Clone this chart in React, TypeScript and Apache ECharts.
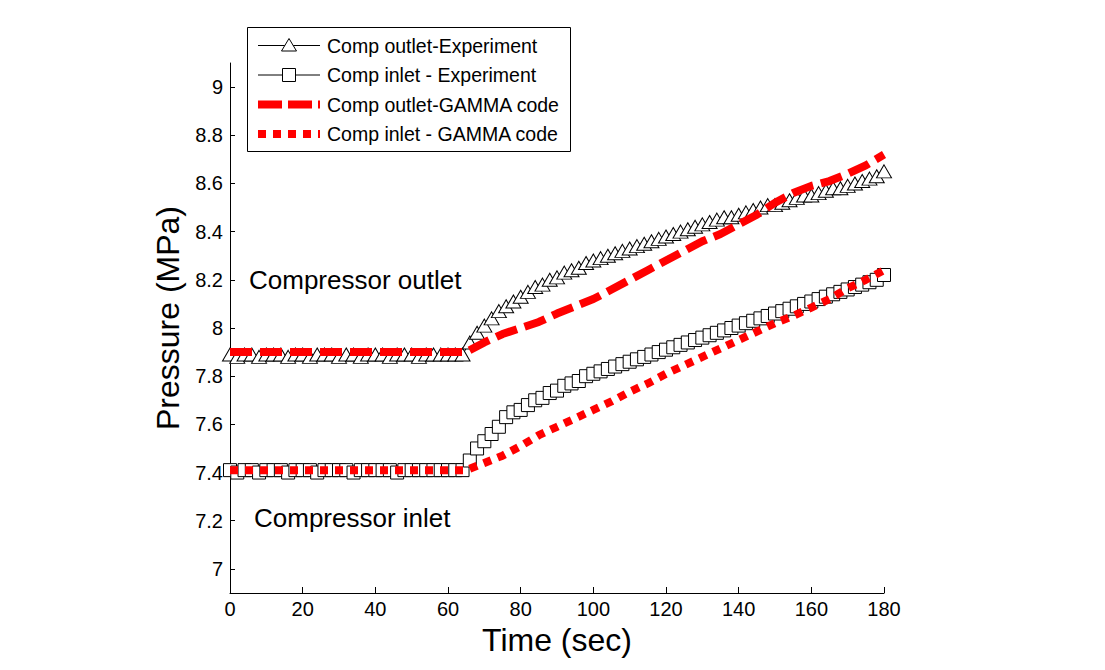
import React, { useEffect, useRef } from 'react';
import * as echarts from 'echarts';

const FONT = '"Liberation Sans", Arial, sans-serif';

const xTicks = [0, 20, 40, 60, 80, 100, 120, 140, 160, 180];
const yTicks = [7, 7.2, 7.4, 7.6, 7.8, 8, 8.2, 8.4, 8.6, 8.8, 9];

const legendNames = [
  'Comp outlet-Experiment',
  'Comp inlet - Experiment',
  'Comp outlet-GAMMA code',
  'Comp inlet - GAMMA code',
];

const expTime = [
  0, 2, 4, 6, 8, 10, 12, 14, 16, 18, 20, 22, 24, 26, 28, 30, 32, 34, 36, 38,
  40, 42, 44, 46, 48, 50, 52, 54, 56, 58, 60, 62, 64, 66, 68, 70, 72, 74, 76, 78,
  80, 82, 84, 86, 88, 90, 92, 94, 96, 98, 100, 102, 104, 106, 108, 110, 112, 114, 116, 118,
  120, 122, 124, 126, 128, 130, 132, 134, 136, 138, 140, 142, 144, 146, 148, 150, 152, 154, 156, 158,
  160, 162, 164, 166, 168, 170, 172, 174, 176, 178, 180,
];

const expOutlet = [
  7.89, 7.88, 7.89, 7.89, 7.88, 7.89, 7.89, 7.89, 7.88, 7.89, 7.89, 7.88, 7.89, 7.89, 7.89, 7.88, 7.89, 7.89, 7.88, 7.89,
  7.89, 7.89, 7.88, 7.89, 7.89, 7.89, 7.88, 7.89, 7.89, 7.89, 7.89, 7.89, 7.89, 7.94, 7.98, 8.01, 8.04, 8.07, 8.09, 8.11,
  8.13, 8.15, 8.17, 8.18, 8.2, 8.21, 8.23, 8.24, 8.25, 8.27, 8.28, 8.29, 8.3, 8.31, 8.32, 8.33, 8.34, 8.35, 8.36, 8.37,
  8.38, 8.39, 8.4, 8.41, 8.42, 8.43, 8.44, 8.45, 8.46, 8.46, 8.47, 8.48, 8.49, 8.5, 8.51, 8.51, 8.52, 8.53, 8.54, 8.55,
  8.55, 8.56, 8.57, 8.58, 8.58, 8.59, 8.6, 8.61, 8.62, 8.63, 8.65,
];

const expInlet = [
  7.41, 7.4, 7.41, 7.41, 7.4, 7.41, 7.41, 7.41, 7.4, 7.41, 7.41, 7.41, 7.4, 7.41, 7.41, 7.41, 7.41, 7.4, 7.41, 7.41,
  7.41, 7.41, 7.41, 7.4, 7.41, 7.41, 7.41, 7.41, 7.41, 7.41, 7.41, 7.41, 7.41, 7.45, 7.5, 7.53, 7.56, 7.59, 7.63, 7.65,
  7.66, 7.68, 7.7, 7.71, 7.73, 7.74, 7.76, 7.77, 7.78, 7.8, 7.81, 7.82, 7.83, 7.84, 7.85, 7.86, 7.87, 7.88, 7.89, 7.9,
  7.91, 7.92, 7.93, 7.94, 7.95, 7.96, 7.97, 7.98, 7.99, 8.0, 8.01, 8.02, 8.03, 8.04, 8.05, 8.06, 8.07, 8.08, 8.09, 8.1,
  8.11, 8.12, 8.13, 8.14, 8.15, 8.16, 8.17, 8.18, 8.19, 8.2, 8.22,
];

const codeTime = [
  0, 5, 10, 15, 20, 25, 30, 35, 40, 45, 50, 55, 60, 65, 70, 75, 80, 85, 90, 95,
  100, 105, 110, 115, 120, 125, 130, 135, 140, 145, 150, 155, 160, 165, 170, 175, 180,
];

const codeOutlet = [
  7.9, 7.9, 7.9, 7.9, 7.9, 7.9, 7.9, 7.9, 7.9, 7.9, 7.9, 7.9, 7.9, 7.9, 7.94, 7.975, 8.0, 8.025, 8.06, 8.09,
  8.12, 8.16, 8.2, 8.24, 8.28, 8.32, 8.36, 8.39, 8.43, 8.47, 8.52, 8.56, 8.59, 8.61, 8.64, 8.675, 8.72,
];

const codeInlet = [
  7.41, 7.41, 7.41, 7.41, 7.41, 7.41, 7.41, 7.41, 7.41, 7.41, 7.41, 7.41, 7.41, 7.41, 7.44, 7.47, 7.51, 7.555, 7.59, 7.625,
  7.66, 7.695, 7.735, 7.77, 7.81, 7.845, 7.88, 7.915, 7.95, 7.985, 8.02, 8.05, 8.085, 8.12, 8.165, 8.2, 8.24,
];

const zip = (xs: number[], ys: number[]) => xs.map((x, i) => [x, ys[i]]);

export default function App() {
  const ref = useRef<HTMLDivElement>(null);

  useEffect(() => {
    document.body.style.margin = '0';
    if (!ref.current) return;
    const chart = echarts.init(ref.current, null, { renderer: 'svg' });

    const rowY = [45.5, 75, 104.5, 134];
    const lx0 = 258;
    const lx1 = 320;
    const lxm = 289;
    const textX = 327;
    const legendFont = 19.5;

    const legendGraphics: any[] = [
      {
        type: 'rect',
        shape: { x: 247.5, y: 27.5, width: 323, height: 124 },
        style: { fill: '#fff', stroke: '#000', lineWidth: 1 },
        z: 100,
      },
      {
        type: 'line',
        shape: { x1: lx0, y1: rowY[0], x2: lx1, y2: rowY[0] },
        style: { stroke: '#000', lineWidth: 1 },
        z: 101,
      },
      {
        type: 'polygon',
        shape: { points: [[lxm, rowY[0] - 7], [lxm - 7.5, rowY[0] + 5.5], [lxm + 7.5, rowY[0] + 5.5]] },
        style: { fill: '#fff', stroke: '#000', lineWidth: 1 },
        z: 102,
      },
      {
        type: 'line',
        shape: { x1: lx0, y1: rowY[1], x2: lx1, y2: rowY[1] },
        style: { stroke: '#000', lineWidth: 1 },
        z: 101,
      },
      {
        type: 'rect',
        shape: { x: lxm - 6.5, y: rowY[1] - 6.5, width: 13, height: 13 },
        style: { fill: '#fff', stroke: '#000', lineWidth: 1 },
        z: 102,
      },
      {
        type: 'line',
        shape: { x1: lx0, y1: rowY[2], x2: lx1, y2: rowY[2] },
        style: { stroke: '#ff0000', lineWidth: 8, lineDash: [24, 6], lineCap: 'butt' },
        z: 101,
      },
      {
        type: 'line',
        shape: { x1: lx0, y1: rowY[3], x2: lx1, y2: rowY[3] },
        style: { stroke: '#ff0000', lineWidth: 8, lineDash: [8, 7], lineCap: 'butt' },
        z: 101,
      },
    ];
    legendNames.forEach((name, i) => {
      legendGraphics.push({
        type: 'text',
        x: textX,
        y: rowY[i],
        style: {
          text: name,
          fontSize: legendFont,
          fontFamily: FONT,
          fill: '#000',
          verticalAlign: 'middle',
          align: 'left',
        },
        z: 103,
      });
    });

    const annotations = [
      {
        type: 'text',
        x: 249,
        y: 280,
        style: { text: 'Compressor outlet', fontSize: 26, fontFamily: FONT, fill: '#000', verticalAlign: 'middle' },
      },
      {
        type: 'text',
        x: 254,
        y: 518,
        style: { text: 'Compressor inlet', fontSize: 26, fontFamily: FONT, fill: '#000', verticalAlign: 'middle' },
      },
    ];

    const option: any = {
      animation: false,
      backgroundColor: '#fff',
      grid: { left: 230, right: 221, top: 63, bottom: 77 },
      xAxis: {
        type: 'value',
        min: 0,
        max: 180,
        interval: 20,
        name: 'Time (sec)',
        nameLocation: 'middle',
        nameGap: 30,
        nameTextStyle: { fontSize: 32, fontFamily: FONT, color: '#000' },
        axisLine: { show: true, onZero: false, lineStyle: { color: '#000', width: 1 } },
        axisTick: { show: true, inside: true, length: 6, lineStyle: { color: '#000' } },
        axisLabel: {
          fontSize: 20,
          fontFamily: FONT,
          color: '#000',
          margin: 6,
          customValues: xTicks,
          formatter: (v: number) => String(v),
        },
        splitLine: { show: false },
      },
      yAxis: {
        type: 'value',
        min: 6.9,
        max: 9.1,
        name: 'Pressure (MPa)',
        nameLocation: 'middle',
        nameGap: 40,
        nameTextStyle: { fontSize: 32, fontFamily: FONT, color: '#000', padding: [0, 0, 0, 20] },
        axisLine: { show: true, onZero: false, lineStyle: { color: '#000', width: 1 } },
        axisTick: { show: true, inside: true, length: 5, customValues: yTicks, lineStyle: { color: '#000' } },
        axisLabel: {
          fontSize: 20,
          fontFamily: FONT,
          color: '#000',
          margin: 7,
          customValues: yTicks,
          formatter: (v: number) => String(Number(v.toFixed(1))),
        },
        splitLine: { show: false },
      },
      series: [
        {
          name: legendNames[0],
          type: 'line',
          data: zip(expTime, expOutlet),
          symbol: 'triangle',
          symbolSize: [15, 13],
          showAllSymbol: true,
          lineStyle: { color: '#000', width: 1 },
          itemStyle: { color: '#fff', borderColor: '#000', borderWidth: 1 },
          z: 2,
        },
        {
          name: legendNames[1],
          type: 'line',
          data: zip(expTime, expInlet),
          symbol: 'rect',
          symbolSize: 13,
          showAllSymbol: true,
          lineStyle: { color: '#000', width: 1 },
          itemStyle: { color: '#fff', borderColor: '#000', borderWidth: 1 },
          z: 2,
        },
        {
          name: legendNames[2],
          type: 'line',
          data: zip(codeTime, codeOutlet),
          showSymbol: false,
          symbol: 'none',
          lineStyle: { color: '#ff0000', width: 8, type: [22, 8], cap: 'butt' },
          z: 3,
        },
        {
          name: legendNames[3],
          type: 'line',
          data: zip(codeTime, codeInlet),
          showSymbol: false,
          symbol: 'none',
          lineStyle: { color: '#ff0000', width: 8, type: [8, 7], cap: 'butt' },
          z: 3,
        },
      ],
      graphic: [...legendGraphics, ...annotations],
    };

    chart.setOption(option);
    return () => chart.dispose();
  }, []);

  return <div ref={ref} style={{ width: 1105, height: 670 }} />;
}
